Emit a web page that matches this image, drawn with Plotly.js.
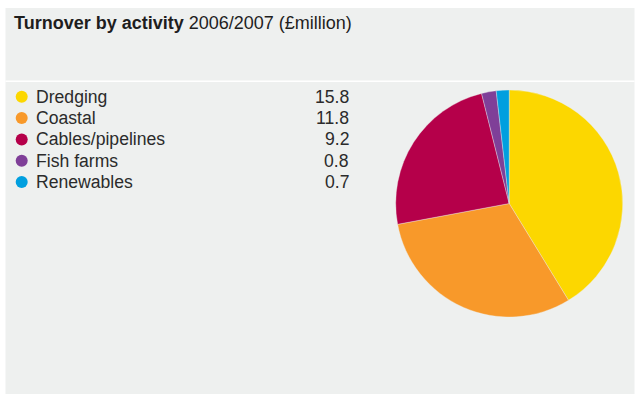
<!DOCTYPE html>
<html>
<head>
<meta charset="utf-8">
<script src="https://cdn.plot.ly/plotly-3.0.1.min.js"></script>
<style>html,body{margin:0;padding:0;background:#fff;}#chart{width:638px;height:394px;}</style>
</head>
<body>
<div id="chart"></div>
<script>
const categories = ["Dredging", "Coastal", "Cables/pipelines", "Fish farms", "Renewables"];
const values = [15.8, 11.8, 9.2, 0.8, 0.7];
const valueLabels = ["15.8", "11.8", "9.2", "0.8", "0.7"];
const colors = ["#FCD700", "#F8992A", "#B5004A", "#7F3F98", "#009FDF"];

const W = 638, H = 394;
const bg = "#EEF0EF";
const textColor = "#2b2b2b";
const font = "Liberation Sans, Arial, Helvetica, sans-serif";

const rowY0 = 96.8, rowStep = 21.3;
const rowsY = categories.map((c, i) => rowY0 + i * rowStep);

const pie = {
  type: "pie",
  values: values,
  labels: categories,
  sort: false,
  direction: "clockwise",
  rotation: 0,
  marker: {colors: colors, line: {color: "rgba(238,240,239,0.6)", width: 0.6}},
  textinfo: "none",
  hoverinfo: "none",
  showlegend: false,
  domain: {x: [395.7 / W, 622.7 / W], y: [1 - 317 / H, 1 - 90 / H]}
};

const dots = {
  type: "scatter",
  mode: "markers",
  x: categories.map(() => 21.7),
  y: rowsY,
  marker: {color: colors, size: 12, line: {width: 0}},
  hoverinfo: "none",
  showlegend: false,
  xaxis: "x",
  yaxis: "y"
};

const annotations = [];
annotations.push({
  x: 12, y: 23, xref: "x", yref: "y", xanchor: "left", yanchor: "middle",
  text: "<b>Turnover by activity</b> 2006/2007 (£million)",
  showarrow: false, font: {family: font, size: 18, color: "#1e1e1e"}
});
categories.forEach((c, i) => {
  annotations.push({
    x: 33.8, y: rowsY[i], xref: "x", yref: "y", xanchor: "left", yanchor: "middle",
    text: c, showarrow: false, font: {family: font, size: 17.6, color: textColor}
  });
  annotations.push({
    x: 350.5, y: rowsY[i], xref: "x", yref: "y", xanchor: "right", yanchor: "middle",
    text: valueLabels[i], showarrow: false, font: {family: font, size: 17.6, color: textColor}
  });
});

const layout = {
  width: W, height: H,
  margin: {l: 0, r: 0, t: 0, b: 0},
  paper_bgcolor: "#ffffff",
  plot_bgcolor: "rgba(0,0,0,0)",
  xaxis: {range: [0, W], visible: false, fixedrange: true, domain: [0, 1]},
  yaxis: {range: [H, 0], visible: false, fixedrange: true, domain: [0, 1]},
  shapes: [
    {type: "rect", xref: "x", yref: "y", x0: 5.5, x1: 634.5, y0: 8, y1: 394, fillcolor: bg, line: {width: 0}, layer: "below"},
    {type: "line", xref: "x", yref: "y", x0: 5.5, x1: 634.5, y0: 81.3, y1: 81.3, line: {color: "#ffffff", width: 1.6}, layer: "below"}
  ],
  annotations: annotations
};

Plotly.newPlot("chart", [pie, dots], layout, {displayModeBar: false, staticPlot: true});
</script>
</body>
</html>
